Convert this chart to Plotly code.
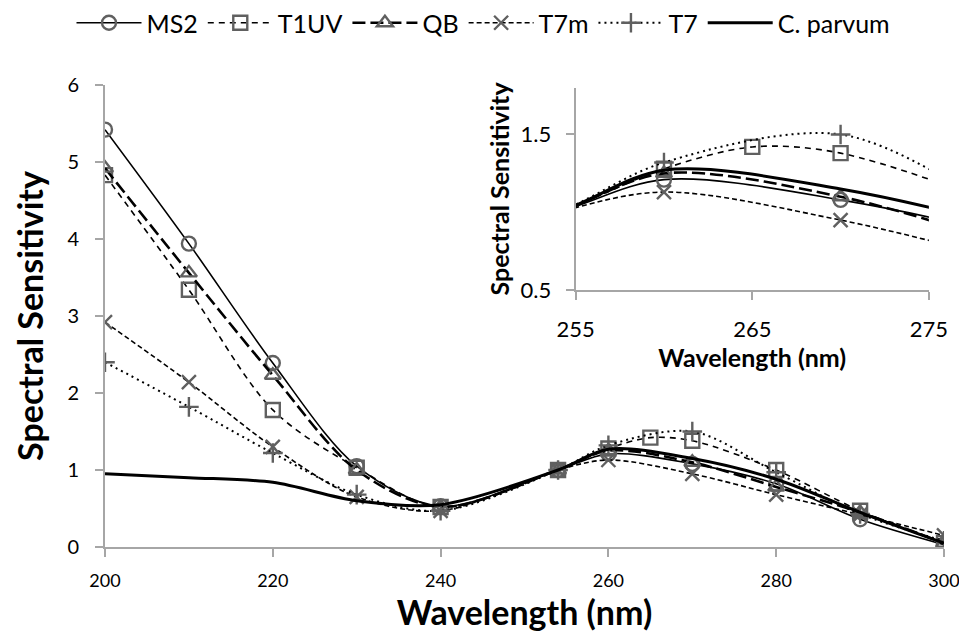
import plotly.graph_objects as go

# ---- data ----
wl = [200, 210, 220, 230, 240, 254, 260, 270, 280, 290, 300]
wl_t1uv = [200, 210, 220, 230, 240, 254, 260, 265, 270, 280, 290, 300]

ms2 = [5.42, 3.94, 2.39, 1.05, 0.53, 1.00, 1.21, 1.08, 0.82, 0.36, 0.03]
t1uv = [4.83, 3.34, 1.78, 1.03, 0.52, 1.00, 1.28, 1.42, 1.38, 1.00, 0.47, 0.05]
qb = [4.92, 3.56, 2.23, 1.00, 0.52, 1.00, 1.25, 1.10, 0.78, 0.45, 0.05]
t7m = [2.92, 2.14, 1.30, 0.65, 0.47, 1.00, 1.13, 0.95, 0.68, 0.42, 0.15]
t7 = [2.40, 1.82, 1.22, 0.68, 0.47, 1.00, 1.32, 1.50, 0.97, 0.43, 0.08]
cparvum = [0.95, 0.90, 0.84, 0.60, 0.55, 1.00, 1.27, 1.15, 0.88, 0.45, 0.05]

series = [
    ("MS2", wl, ms2, dict(width=1.6, dash="solid"), "circle-open"),
    ("T1UV", wl_t1uv, t1uv, dict(width=1.6, dash="6px,5px"), "square-open"),
    ("QB", wl, qb, dict(width=2.6, dash="13px,5px"), "triangle-up-open"),
    ("T7m", wl, t7m, dict(width=1.6, dash="5px,3px"), "x-thin-open"),
    ("T7", wl, t7, dict(width=2, dash="2px,4px"), "cross-thin-open"),
    ("C. parvum", wl, cparvum, dict(width=3, dash="solid"), None),
]

FONT = "Lato, Open Sans, sans-serif"
mcol = "#606060"

fig = go.Figure()
for xa, ya, show in [("x", "y", True), ("x2", "y2", False)]:
    for name, xs, ys, ln, sym in series:
        ln2 = dict(ln, color="black", shape="spline", smoothing=0.9)
        if sym:
            mk = dict(symbol=sym, size=14, color=mcol,
                      line=dict(color=mcol, width=2.4))
            mode = "lines+markers"
        else:
            mk = None
            mode = "lines"
        fig.add_trace(go.Scatter(
            x=xs, y=ys, name=name, mode=mode, line=ln2, marker=mk,
            xaxis=xa, yaxis=ya, showlegend=show, cliponaxis=True))

axcol = "#a6a6a6"
common = dict(showgrid=False, zeroline=False, showline=True, linecolor=axcol,
              linewidth=2, ticks="outside", tickcolor=axcol, ticklen=8,
              tickwidth=2, mirror=False, automargin=False,
              ticklabeloverflow="allow")

W, H = 951, 627  # page body has an 8px margin on every side
fig.update_layout(
    width=W, height=H,
    margin=dict(l=97, r=15, t=77, b=88),
    paper_bgcolor="white", plot_bgcolor="white",
    font=dict(family=FONT, color="black", size=20),
    showlegend=True,
    legend=dict(orientation="h", x=0.5, xanchor="center",
                xref="container", yref="container",
                y=1 - 15 / H, yanchor="middle", font=dict(size=25),
                itemwidth=65, traceorder="normal"),
    xaxis=dict(common, range=[200, 300], dtick=20, tick0=200,
               domain=[0, 1], anchor="y",
               tickfont=dict(size=18), ticklabelstandoff=8,
               title=dict(text="<b>Wavelength (nm)</b>",
                          font=dict(size=34), standoff=5)),
    yaxis=dict(common, range=[0, 6], dtick=1, domain=[0, 1], anchor="x",
               tickfont=dict(size=20), ticklabelstandoff=12,
               title=dict(text="<b>Spectral Sensitivity</b>",
                          font=dict(size=34), standoff=13)),
    xaxis2=dict(common, range=[255, 275], tickvals=[255, 265, 275],
                domain=[0.561, 0.982], anchor="y2",
                tickfont=dict(size=22), ticklabelstandoff=10,
                title=dict(text="<b>Wavelength (nm)</b>",
                           font=dict(size=25), standoff=4)),
    yaxis2=dict(common, range=[0.5, 1.8], tickvals=[0.5, 1.5],
                ticktext=["0.5", "1.5"],
                domain=[0.556, 0.994], anchor="x2",
                tickfont=dict(size=22), ticklabelstandoff=10,
                title=dict(text="<b>Spectral Sensitivity</b>",
                           font=dict(size=25), standoff=4)),
)

fig.write_html("out.html")
